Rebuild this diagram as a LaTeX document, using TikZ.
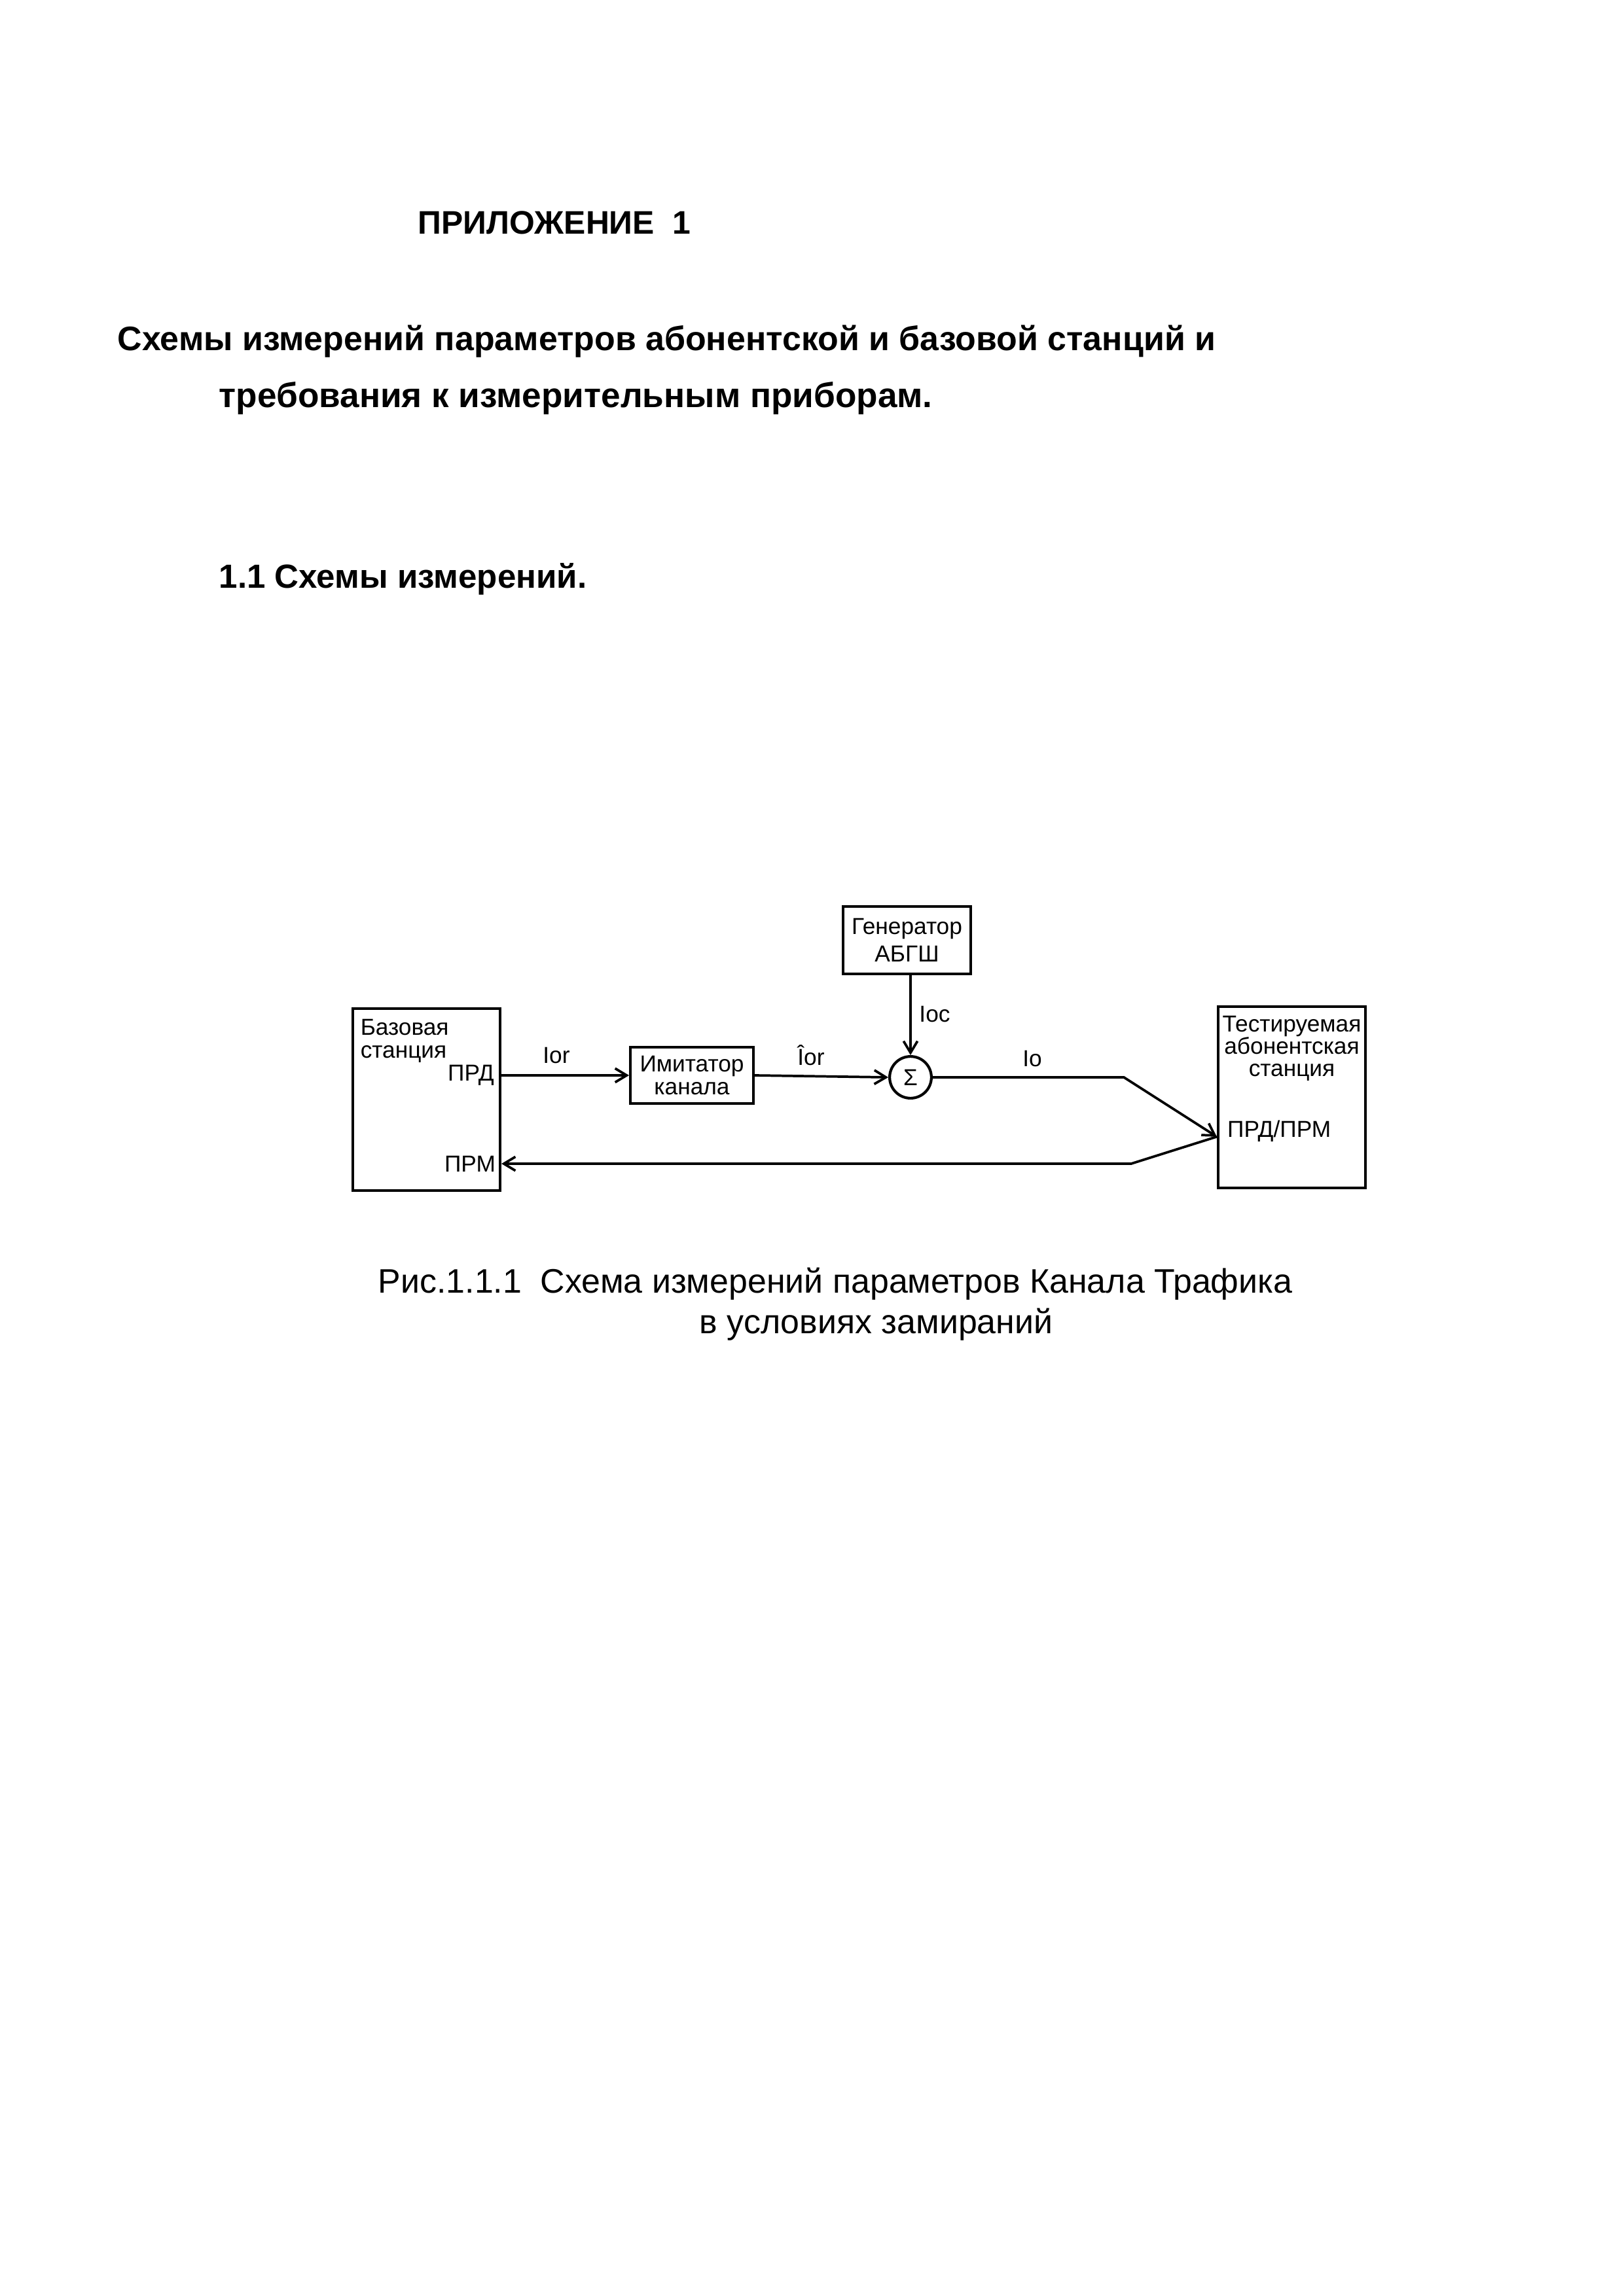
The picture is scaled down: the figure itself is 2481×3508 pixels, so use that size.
\documentclass[tikz,border=0pt]{standalone}
\usepackage{fontspec}
\setmainfont{Liberation Sans}
\usetikzlibrary{positioning,arrows.meta}

\begin{document}
\begin{tikzpicture}[
  x=0.08467mm, y=-0.08467mm,
  font=\fontsize{8.5}{8.2}\selectfont,
  >={Straight Barb[length=1.5mm,width=1.8mm]},
  head/.style={font=\fontsize{12.5}{14}\selectfont\bfseries,inner sep=0pt,anchor=base west},
  capt/.style={font=\fontsize{12.5}{15}\selectfont,inner sep=0pt,anchor=base west},
  blk/.style={draw,line width=1pt,inner sep=0pt,align=center},
  txt/.style={inner sep=0pt,align=center},
  sig/.style={inner sep=0pt},
  flow/.style={->,line width=0.9pt},
]
\useasboundingbox (0,0) rectangle (2481,3508);
% headings
\node[head,font=\fontsize{12}{14}\selectfont\bfseries] (app) at (638,357) {ПРИЛОЖЕНИЕ\ \ 1};
\node[head] (hd1) at (179,535) {Схемы измерений параметров абонентской и базовой станций и};
\node[head,font=\fontsize{12.8}{14}\selectfont\bfseries] (hd2) at (334,622) {требования к измерительным приборам.};
\node[head,font=\fontsize{12.3}{14}\selectfont\bfseries] (sec) at (334,898) {1.1 Схемы измерений.};
% blocks
\node[blk,minimum width=19.05mm,minimum height=23.5mm] (bs) at (651.5,1680) {};
\node[blk,minimum width=15.9mm,minimum height=7.3mm] (imit) at (1057,1643) {Имитатор\\канала};
\node[blk,minimum width=16.5mm,minimum height=8.7mm] (gen) at (1385.5,1436.5) {Генератор\\[2pt]АБГШ};
\node[blk,circle,minimum size=5.4mm] (sum) at (1391,1646) {Σ};
\node[blk,minimum width=19.05mm,minimum height=23.45mm] (ms) at (1973.5,1676.5) {};
% texts inside the stations
\node[txt,anchor=north west,align=left] (bsname) at ([shift={(1.1mm,-1.5mm)}]bs.north west) {Базовая\\станция};
\node[txt,anchor=north] (msname) at ([yshift=-1.3mm]ms.north) {Тестируемая\\абонентская\\станция};
\coordinate (msport) at ([yshift=-5.1mm]ms.west);
\coordinate (bend1) at (1717,1646);
\coordinate (bend2) at (1728,1778);
\node[txt,anchor=east] (prd) at ([xshift=-0.9mm]bs.east |- imit.west) {ПРД};
\node[txt,anchor=east] (prm) at ([xshift=-0.7mm]bs.east |- bend2) {ПРМ};
\node[txt,anchor=west] (port) at ([shift={(1.3mm,0.7mm)}]msport) {ПРД/ПРМ};
% signal names
\node[sig] (ior) at (850,1613) {Ior};
\node[sig] (iorhat) at (1239,1612) {Îor};
\node[sig] (ioc) at (1428,1550) {Ioc};
\node[sig] (io) at (1577,1618) {Io};
% flows
\draw[flow] (bs.east |- imit.west) -- (imit.west);
\draw[flow] (imit.east) -- (sum.west);
\draw[flow] (gen.south -| sum.north) -- (sum.north);
\draw[flow] (sum.east) -- (bend1) -- (msport);
\draw[flow] (msport) -- (bend2) -- (bs.east |- bend2);
% caption
\node[capt] (cap1) at (577,1975) {Рис.1.1.1\hspace{2.4mm}Схема измерений параметров Канала Трафика};
\node[capt] (cap2) at (1068,2037) {в условиях замираний};
\end{tikzpicture}
\end{document}
